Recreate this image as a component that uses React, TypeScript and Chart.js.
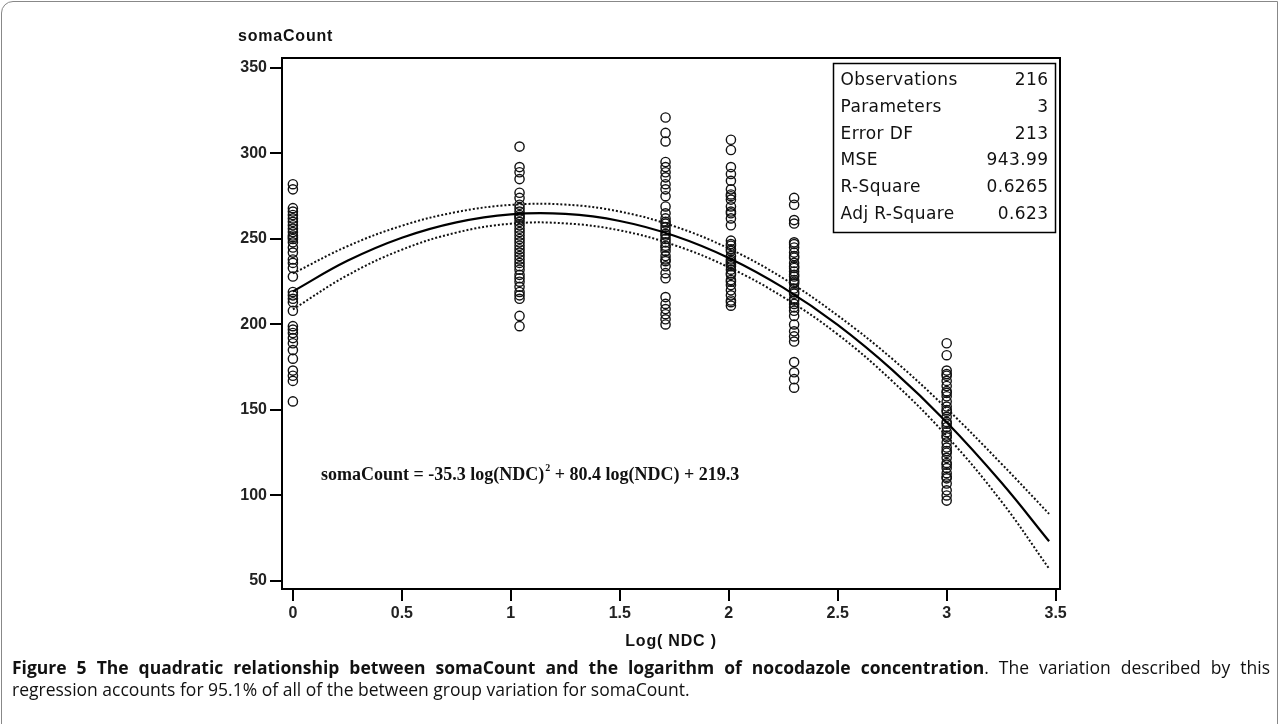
import React, { useEffect, useRef } from 'react';
import { Chart, registerables } from 'chart.js';

Chart.register(...registerables);

// ---- data ----
const xTicks = [0, 0.5, 1, 1.5, 2, 2.5, 3, 3.5];
const xTickLabels = ['0', '0.5', '1', '1.5', '2', '2.5', '3', '3.5'];
const yTicks = [50, 100, 150, 200, 250, 300, 350];

const groupX = [0, 1.04, 1.71, 2.01, 2.3, 3.0];
const group0 = [282, 279, 268, 266, 264, 262, 260, 258, 256, 254, 252, 250, 248, 245, 242, 238, 236, 233, 228, 219, 217, 215, 213, 208, 199, 197, 195, 192, 189, 185, 180, 173, 170, 167, 155, 251];
const group1 = [304, 292, 289, 285, 277, 274, 270, 268, 266, 264, 262, 260, 258, 256, 254, 252, 250, 248, 246, 244, 242, 240, 238, 236, 234, 232, 229, 227, 225, 222, 219, 217, 215, 205, 199, 263];
const group2 = [321, 312, 307, 295, 292, 289, 286, 282, 279, 275, 269, 265, 262, 259, 257, 255, 252, 250, 248, 245, 243, 240, 237, 234, 230, 227, 216, 212, 209, 206, 203, 200, 260, 253, 246, 238];
const group3 = [308, 302, 292, 288, 284, 279, 276, 273, 269, 266, 262, 258, 249, 246, 243, 240, 237, 235, 232, 229, 226, 223, 220, 217, 214, 211, 244, 238, 234, 230, 275, 265, 247, 236, 225, 213];
const group4 = [274, 270, 261, 259, 248, 245, 242, 239, 236, 233, 231, 228, 226, 224, 221, 218, 215, 212, 208, 205, 200, 193, 190, 178, 172, 168, 163, 247, 240, 234, 229, 225, 219, 214, 210, 196];
const group5 = [189, 182, 173, 170, 167, 164, 161, 158, 155, 152, 149, 146, 143, 140, 137, 134, 131, 128, 125, 122, 119, 116, 113, 110, 107, 103, 100, 97, 171, 160, 150, 142, 135, 126, 118, 111];
const groups = [group0, group1, group2, group3, group4, group5];

const fitX = [0, 0.25, 0.5, 0.75, 1.0, 1.25, 1.5, 1.75, 2.0, 2.25, 2.5, 2.75, 3.0, 3.25, 3.47];
const fitY = [219.3, 237.2, 250.7, 259.7, 264.4, 264.6, 260.5, 251.9, 238.9, 221.5, 199.7, 173.4, 142.8, 107.7, 73.2];
const upperY = [229.8, 245.7, 257.7, 265.7, 269.9, 270.1, 266.0, 257.4, 244.4, 227.0, 205.2, 179.9, 150.8, 118.7, 89.2];
const lowerY = [208.8, 228.7, 243.7, 253.7, 258.9, 259.1, 255.0, 246.4, 233.4, 216.0, 194.2, 166.9, 134.8, 96.7, 57.2];

const statLabels = ['Observations', 'Parameters', 'Error DF', 'MSE', 'R-Square', 'Adj R-Square'];
const statValues = ['216', '3', '213', '943.99', '0.6265', '0.623'];

const yTitle = 'somaCount';
const xTitle = 'Log( NDC )';
const eqPart1 = 'somaCount = -35.3 log(NDC)';
const eqSup = '2';
const eqPart2 = ' + 80.4 log(NDC) + 219.3';

const captionBold = 'Figure 5 The quadratic relationship between somaCount and the logarithm of nocodazole concentration';
const captionRest1 = '. The variation described by this';
const captionRest2 = 'regression accounts for 95.1% of all of the between group variation for somaCount.';

const textPlugin = {
  id: 'texts',
  afterDraw(chart: any) {
    const ctx = chart.ctx as CanvasRenderingContext2D;
    const ca = chart.chartArea;
    ctx.save();
    // frame
    ctx.strokeStyle = '#000';
    ctx.lineWidth = 2;
    ctx.strokeRect(ca.left, ca.top, ca.right - ca.left, ca.bottom - ca.top);

    // axis titles
    ctx.fillStyle = '#111';
    (ctx as any).letterSpacing = '0.8px';
    ctx.font = 'bold 16px "Liberation Sans", Arial, sans-serif';
    ctx.textBaseline = 'middle';
    ctx.textAlign = 'left';
    ctx.fillText(yTitle, ca.left - 44, ca.top - 21);
    ctx.textAlign = 'center';
    ctx.fillText(xTitle, (ca.left + ca.right) / 2, ca.bottom + 53);

    // equation
    (ctx as any).letterSpacing = '0px';
    ctx.textAlign = 'left';
    ctx.textBaseline = 'alphabetic';
    ctx.font = 'bold 18px "Liberation Serif", "Times New Roman", serif';
    let ex = ca.left + 39;
    const ey = ca.top + 422;
    ctx.fillText(eqPart1, ex, ey);
    ex += ctx.measureText(eqPart1).width + 1;
    ctx.font = 'bold 10px "Liberation Serif", serif';
    ctx.fillText(eqSup, ex, ey - 9);
    ex += ctx.measureText(eqSup).width;
    ctx.font = 'bold 18px "Liberation Serif", "Times New Roman", serif';
    ctx.fillText(eqPart2, ex, ey);

    // stats box
    const bx = 833.5, by = ca.top + 5.5, bw = 222, bh = 169;
    ctx.fillStyle = '#fff';
    ctx.fillRect(bx, by, bw, bh);
    ctx.strokeStyle = '#000';
    ctx.lineWidth = 1.5;
    ctx.strokeRect(bx, by, bw, bh);
    ctx.fillStyle = '#111';
    ctx.font = '17px "DejaVu Sans", Verdana, sans-serif';
    (ctx as any).letterSpacing = '0.4px';
    ctx.textBaseline = 'middle';
    for (let i = 0; i < statLabels.length; i++) {
      const ry = by + 17 + i * 26.8;
      ctx.textAlign = 'left';
      ctx.fillText(statLabels[i], bx + 7, ry);
      ctx.textAlign = 'right';
      ctx.fillText(statValues[i], bx + bw - 7, ry);
    }
    ctx.restore();
  },
};

export default function App() {
  const ref = useRef<HTMLCanvasElement>(null);

  useEffect(() => {
    document.body.style.margin = '0';
    const scatterData: { x: number; y: number }[] = [];
    groups.forEach((g, gi) => g.forEach((v) => scatterData.push({ x: groupX[gi], y: v })));
    const lineData = (ys: number[]) => fitX.map((x, i) => ({ x, y: ys[i] }));

    const tickFont = { family: '"Liberation Sans", Arial, sans-serif', size: 16, weight: 'bold' as const };

    const chart = new Chart(ref.current as HTMLCanvasElement, {
      type: 'scatter',
      data: {
        datasets: [
          {
            type: 'line',
            data: lineData(fitY),
            borderColor: '#000',
            borderWidth: 2.2,
            pointRadius: 0,
            tension: 0.4,
            fill: false,
          } as any,
          {
            type: 'line',
            data: lineData(upperY),
            borderColor: '#111',
            borderWidth: 2,
            borderDash: [2, 2],
            pointRadius: 0,
            tension: 0.4,
            fill: false,
          } as any,
          {
            type: 'line',
            data: lineData(lowerY),
            borderColor: '#111',
            borderWidth: 2,
            borderDash: [2, 2],
            pointRadius: 0,
            tension: 0.4,
            fill: false,
          } as any,
          {
            type: 'scatter',
            data: scatterData,
            pointStyle: 'circle',
            pointRadius: 4.6,
            pointBorderWidth: 1.4,
            borderColor: '#111',
            backgroundColor: 'rgba(0,0,0,0)',
          } as any,
        ],
      },
      options: {
        animation: false,
        responsive: false,
        devicePixelRatio: 1,
        layout: { padding: { left: 0, top: 58, right: 221, bottom: 0 } },
        plugins: { legend: { display: false }, tooltip: { enabled: false }, title: { display: false } },
        scales: {
          x: {
            type: 'linear',
            min: -0.05,
            max: 3.52,
            afterBuildTicks: (s: any) => { s.ticks = xTicks.map((v) => ({ value: v })); },
            afterFit: (s: any) => { s.height = 71; },
            grid: { drawOnChartArea: false, drawTicks: true, tickLength: 12, color: '#000', lineWidth: 2 },
            border: { display: true, color: '#000', width: 2 },
            ticks: {
              font: tickFont,
              color: '#222',
              padding: 3,
              maxRotation: 0,
              autoSkip: false,
              callback: (v: any) => {
                const i = xTicks.indexOf(Number(v));
                return i >= 0 ? xTickLabels[i] : '';
              },
            },
          },
          y: {
            type: 'linear',
            min: 45.3,
            max: 355.8,
            afterBuildTicks: (s: any) => { s.ticks = yTicks.map((v) => ({ value: v })); },
            afterFit: (s: any) => { s.width = 282; },
            grid: { drawOnChartArea: false, drawTicks: true, tickLength: 12, color: '#000', lineWidth: 2 },
            border: { display: true, color: '#000', width: 2 },
            ticks: { font: tickFont, color: '#222', padding: 3, autoSkip: false },
          },
        },
      } as any,
      plugins: [textPlugin],
    });
    return () => chart.destroy();
  }, []);

  const captionStyle: React.CSSProperties = {
    position: 'absolute',
    left: 12,
    width: 1258,
    fontFamily: '"Open Sans", sans-serif',
    fontSize: 17.5,
    lineHeight: '22px',
    color: '#111',
    whiteSpace: 'nowrap',
  };

  return (
    <div style={{ position: 'absolute', left: 0, top: 0, width: 1281, height: 724, overflow: 'hidden', background: '#fff' }}>
      <div style={{ position: 'absolute', left: 1, top: 1, width: 1277, height: 760, border: '1px solid #888', borderTopLeftRadius: 12, boxSizing: 'border-box' }} />
      <canvas ref={ref} width={1281} height={660} style={{ position: 'absolute', left: 0, top: 0, width: 1281, height: 660 }} />
      <div style={{ ...captionStyle, top: 656, whiteSpace: 'normal', textAlign: 'justify', textAlignLast: 'justify' }}>
        <span style={{ fontWeight: 'bold' }}>{captionBold}</span>
        <span>{captionRest1}</span>
      </div>
      <div style={{ ...captionStyle, top: 678 }}>
        <span>{captionRest2}</span>
      </div>
    </div>
  );
}
